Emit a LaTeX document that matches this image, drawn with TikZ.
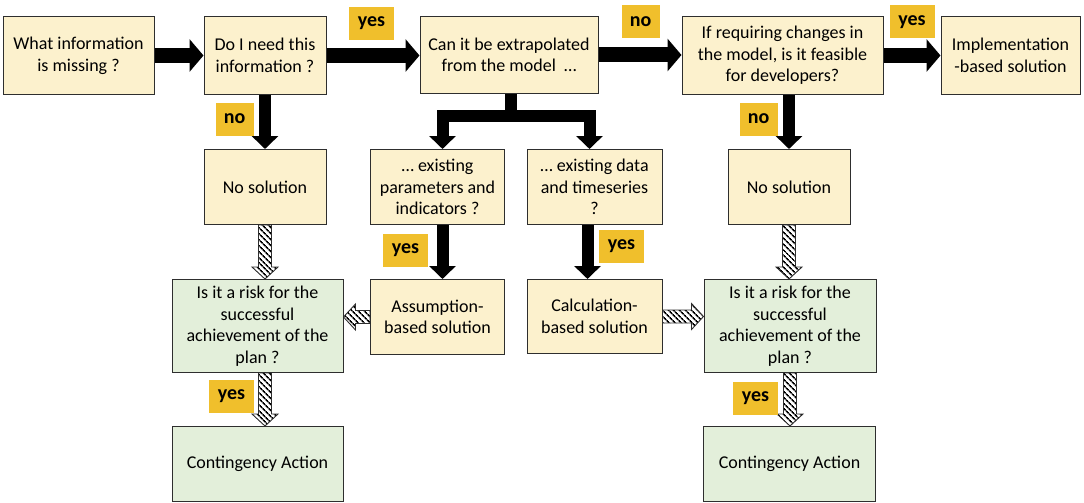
\documentclass[tikz,border=0pt]{standalone}
\usepackage{fontspec}
\setmainfont{Carlito}
\usetikzlibrary{arrows.meta,patterns.meta,calc}
\definecolor{cream}{HTML}{FCF1CD}
\definecolor{lgreen}{HTML}{E3EFDA}
\definecolor{gold}{HTML}{F0BF2C}
\definecolor{edge}{HTML}{2E2E2E}
\newcommand\hatcharrow[2]{%
  \coordinate (hs) at (#1);
  \coordinate (he) at (#2);
  \coordinate (hh) at ($(he)!12pt!(hs)$);
  \filldraw[hatched] ($(hs)!6.5pt!90:(he)$) -- ($(hh)!6.5pt!-90:(hs)$)
    -- ($(hh)!13pt!-90:(hs)$) -- (he) -- ($(hh)!13pt!90:(hs)$)
    -- ($(hh)!6.5pt!90:(hs)$) -- ($(hs)!6.5pt!-90:(he)$) -- cycle;
}
\begin{document}
\begin{tikzpicture}[x=1pt,y=-1pt,
  box/.style={draw=edge, line width=1pt, fill=cream, align=center, inner sep=0pt,
    font=\fontsize{18}{21.6}\selectfont, text=black},
  gbox/.style={box, fill=lgreen},
  lab/.style={fill=gold, inner sep=0pt, minimum height=33pt, minimum width=45pt,
    font=\bfseries\fontsize{20}{22}\selectfont},
  nolab/.style={lab, minimum width=38pt},
  thickh/.style={line width=15pt, -{Triangle[length=14pt,width=32pt]}},
  thickv/.style={line width=12pt, -{Triangle[length=13pt,width=26pt]}},
  hatched/.style={draw=edge, line width=0.9pt, line join=miter,
    pattern={Lines[angle=-45,distance=4pt,line width=1.7pt]}, pattern color=black}
]
\useasboundingbox (0,0) rectangle (1084,503);

% boxes
\node[box, minimum width=151pt, minimum height=78pt] (A) at (78.5,55.5) {What information\\is missing ?};
\node[box, minimum width=122pt, minimum height=78pt] (B) at (265,55.5) {Do I need this\\information ?};
\node[box, minimum width=178pt, minimum height=77pt] (C) at (509,55) {Can it be extrapolated\\from the model\ \ …};
\node[box, minimum width=201pt, minimum height=78pt] (D) at (782.5,55.5) {If requiring changes in\\the model, is it feasible\\for developers?};
\node[box, minimum width=139pt, minimum height=78pt] (E) at (1010.5,55.5) {Implementation\\-based solution};
\node[box, minimum width=122pt, minimum height=75pt] (F) at (265,187) {No solution};
\node[box, minimum width=134pt, minimum height=75pt] (G) at (437.5,187) {… existing\\parameters and\\indicators ?};
\node[box, minimum width=135pt, minimum height=75pt] (H) at (594.5,187) {… existing data\\and timeseries\\?};
\node[box, minimum width=122pt, minimum height=75pt] (I) at (789,187) {No solution};
\node[gbox, minimum width=171pt, minimum height=93pt] (J) at (257.5,326) {Is it a risk for the\\successful\\achievement of the\\plan ?};
\node[box, minimum width=134pt, minimum height=75pt] (K) at (437.5,317) {Assumption-\\based solution};
\node[box, minimum width=135pt, minimum height=74pt] (L) at (594.5,316.5) {Calculation-\\based solution};
\node[gbox, minimum width=172pt, minimum height=93pt] (M) at (790,326) {Is it a risk for the\\successful\\achievement of the\\plan ?};
\node[gbox, minimum width=171pt, minimum height=75pt] (N) at (257.5,464) {Contingency Action};
\node[gbox, minimum width=172pt, minimum height=75pt] (O) at (789.5,464) {Contingency Action};

% thick black arrows
\draw[thickh] (A) -- (B);
\draw[thickh] (B) -- (B.east -| C.west);
\draw[thickh] (C.east) -- (C.east -| D.west);
\draw[thickh] (D) -- (D.east -| E.west);
\draw[thickv] (B.south) -- (F.north);
\draw[thickv] (I.north |- D.south) -- (I.north);
\coordinate (split) at (511,115.5);
\draw[thickv, line join=miter] (split |- C.south) -- (split) -| ([xshift=5pt]G.north);
\draw[thickv, line join=miter] (split |- C.south) -- (split) -| ([xshift=-5pt]H.north);
\draw[thickv] ([xshift=5pt]G.south) -- ([xshift=5pt]K.north);
\draw[thickv] ([xshift=-7pt]H.south) -- ([xshift=-7pt]L.north);

% hatched arrows
\hatcharrow{F.south}{F.south |- J.north}
\hatcharrow{F.south |- J.south}{F.south |- N.north}
\hatcharrow{K.west}{K.west -| J.east}
\hatcharrow{L.east}{L.east -| M.west}
\hatcharrow{I.south}{I.south |- M.north}
\hatcharrow{M.south}{M.south |- O.north}

% labels
\node[lab] (y1) at (371.5,23.5) {yes};
\node[nolab] (n1) at (640.5,22) {no};
\node[lab] (y2) at (912,22) {yes};
\node[nolab] (n2) at (234.5,119) {no};
\node[nolab] (n3) at (758.5,119) {no};
\node[lab] (y3) at (405.5,250) {yes};
\node[lab] (y4) at (621.5,246.5) {yes};
\node[lab] (y5) at (231.5,396) {yes};
\node[lab] (y6) at (755.5,398.5) {yes};
\end{tikzpicture}
\end{document}
